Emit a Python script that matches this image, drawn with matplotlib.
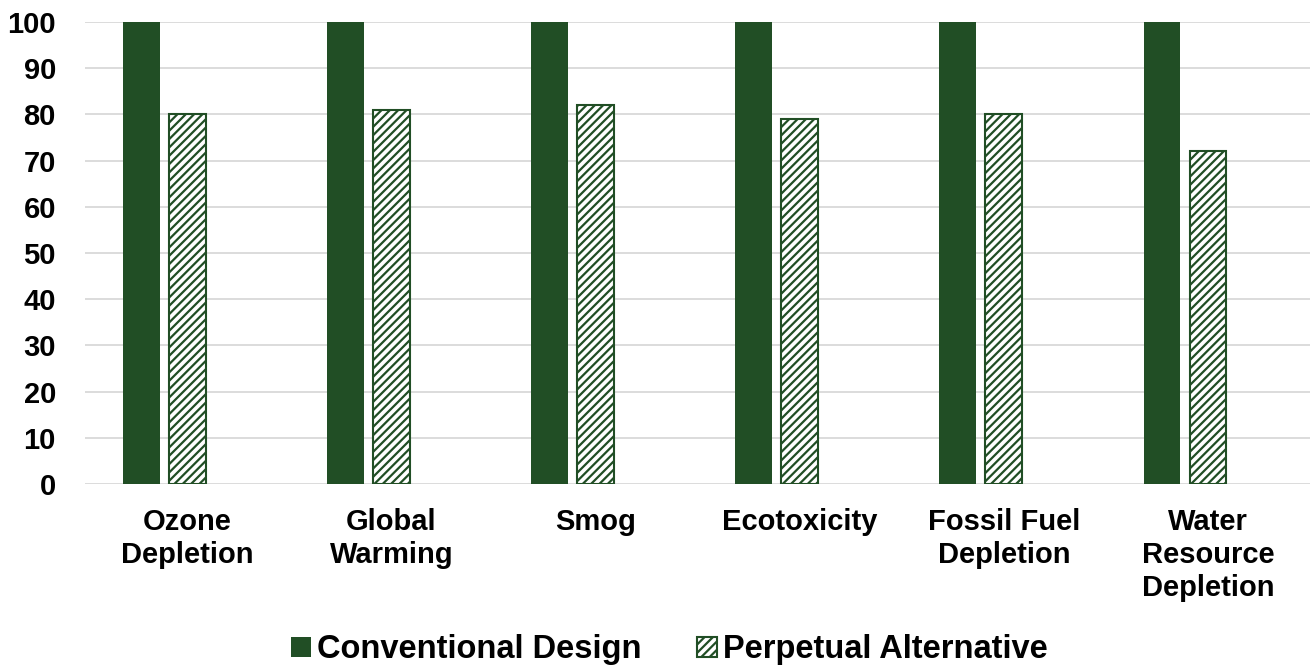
import matplotlib.pyplot as plt
import numpy as np

categories = ["Ozone\nDepletion", "Global\nWarming", "Smog", "Ecotoxicity",
              "Fossil Fuel\nDepletion", "Water\nResource\nDepletion"]
conventional = [100, 100, 100, 100, 100, 100]
perpetual = [80, 81, 82, 79, 80, 72]

green = "#214E25"
plt.rcParams["font.family"] = ["Liberation Sans", "DejaVu Sans"]
plt.rcParams["font.weight"] = "bold"
plt.rcParams["hatch.color"] = green
plt.rcParams["hatch.linewidth"] = 1.6

fig = plt.figure(figsize=(13.1, 6.68), dpi=100)
ax = fig.add_axes([0.065, 0.2754, 0.935, 0.6916])

x = np.arange(len(categories))
step = 0.225
width = 0.18
ax.bar(x - step, conventional, width, color=green, label="Conventional Design", zorder=3)
ax.bar(x, perpetual, width, facecolor="white", edgecolor=green, hatch="////",
       linewidth=1.5, label="Perpetual Alternative", zorder=3)

ax.set_xlim(-0.5, len(categories) - 0.5)
ax.set_ylim(0, 100)
ax.set_yticks(np.arange(0, 101, 10))
ax.set_xticks(x)
ax.set_xticklabels(categories, fontsize=21, fontweight="bold", linespacing=1.22)
ax.tick_params(axis="y", labelsize=21, length=0, pad=21)
ax.tick_params(axis="x", length=0, pad=17.5)
ax.grid(axis="y", color="#D9D9D9", linewidth=1.3, zorder=0)
for s in ax.spines.values():
    s.set_visible(False)

fig.legend(loc="center", bbox_to_anchor=(0.511, 0.027), ncol=2, frameon=False,
           handlelength=0.6, handleheight=0.6, handletextpad=0.2,
           columnspacing=1.7, prop={"weight": "bold", "size": 23.5})

fig.savefig("out.png", dpi=100)
